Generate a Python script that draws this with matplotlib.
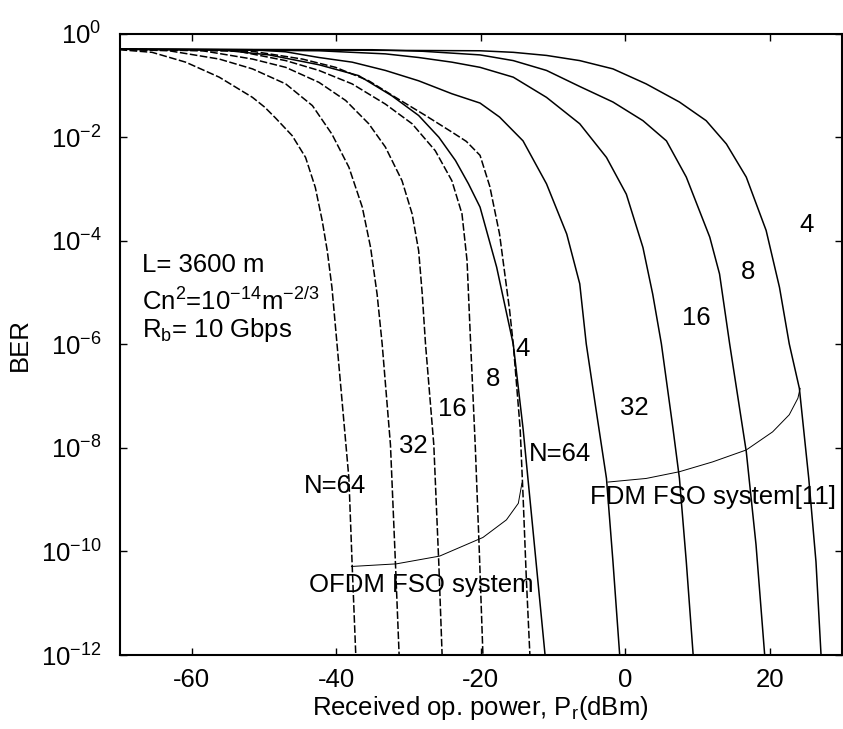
import matplotlib
matplotlib.use('Agg')
import matplotlib.pyplot as plt
import numpy as np

plt.rcParams['font.family'] = ['Liberation Sans', 'DejaVu Sans']
plt.rcParams['mathtext.fontset'] = 'custom'
plt.rcParams['mathtext.rm'] = 'Liberation Sans'
plt.rcParams['mathtext.it'] = 'Liberation Sans'
plt.rcParams['axes.unicode_minus'] = False

# received power (dBm) and log10(BER)
# OFDM FSO system, dashed
ofdm_n = ['N=64', '32', '16', '8', '4']
ofdm_pw = [
    [-70, -65.5, -60.85, -56.2, -51.6, -49.9, -48.4, -46.1, -44.25, -42.9, -41.95, -41.25, -40.6, -39.9, -38.25, -37.8, -37.3],
    [-70, -63.15, -56.2, -51.6, -47.0, -43.3, -40.6, -38.25, -36.4, -35.25, -34.35, -33.65, -32.5, -31.8, -31.3],
    [-70, -58.5, -51.6, -47.0, -42.4, -38.7, -35.5, -33.2, -30.9, -29.5, -28.6, -28.1, -27.65, -26.5, -25.8, -25.35],
    [-70, -53.9, -47.0, -42.4, -37.8, -33.2, -29.5, -26.3, -24.0, -22.6, -21.9, -21.4, -20.75, -20.2, -19.7],
    [-70, -51.6, -44.7, -40.1, -35.5, -31.8, -27.65, -24.0, -22.0, -20.1, -18.75, -17.4, -16.0, -15.5, -14.55, -14.15, -13.7, -13.2],
]
ofdm_ber = [
    [-0.31, -0.36, -0.55, -0.84, -1.23, -1.42, -1.63, -1.97, -2.39, -2.97, -3.61, -4.19, -4.90, -5.99, -8.59, -10.26, -12.0],
    [-0.30, -0.33, -0.49, -0.68, -0.97, -1.39, -1.94, -2.58, -3.35, -4.13, -5.03, -5.99, -7.94, -10.26, -12.0],
    [-0.30, -0.33, -0.49, -0.65, -0.94, -1.29, -1.74, -2.19, -2.84, -3.48, -4.19, -5.03, -5.99, -7.94, -10.26, -12.0],
    [-0.30, -0.33, -0.52, -0.71, -0.97, -1.36, -1.74, -2.26, -2.84, -3.48, -4.38, -5.99, -8.0, -10.0, -12.0],
    [-0.30, -0.34, -0.49, -0.65, -0.91, -1.23, -1.58, -1.90, -2.08, -2.35, -2.95, -3.87, -5.35, -6.0, -7.62, -8.91, -10.5, -12.0],
]

# FDM FSO system[11], solid
fdm_n = ['N=64', '32', '16', '8', '4']
fdm_pw = [
    [-70, -56.2, -49.3, -42.4, -36.9, -32.3, -28.6, -25.8, -23.5, -21.7, -20.1, -17.8, -15.5, -14.15, -12.8, -11.1],
    [-70, -51.6, -47.0, -42.4, -37.8, -33.2, -28.6, -24.0, -20.1, -17.4, -14.15, -10.9, -8.1, -6.3, -5.4, -4.0, -2.6, -1.7, -0.77],
    [-70, -42.4, -33.2, -28.6, -24.0, -20.1, -15.5, -10.9, -6.3, -2.6, 0.15, 2.45, 3.8, 5.0, 6.6, 7.5, 8.45, 9.4],
    [-70, -35.0, -28.0, -20.1, -15.5, -10.9, -6.3, -1.7, 2.45, 5.7, 8.45, 11.7, 13.05, 14.45, 16.75, 18.1, 19.3],
    [-70, -20.1, -15.5, -10.9, -6.3, -1.7, 2.9, 7.5, 11.2, 14.0, 16.75, 19.5, 21.35, 22.7, 24.1, 25.4, 26.4, 27.1],
]
fdm_ber = [
    [-0.30, -0.31, -0.41, -0.60, -0.81, -1.20, -1.58, -2.0, -2.45, -2.90, -3.35, -4.51, -6.0, -7.62, -9.55, -12.0],
    [-0.30, -0.31, -0.35, -0.46, -0.55, -0.71, -0.91, -1.16, -1.34, -1.61, -2.07, -2.90, -3.87, -4.83, -5.99, -7.30, -8.59, -10.2, -12.0],
    [-0.30, -0.33, -0.39, -0.46, -0.55, -0.65, -0.84, -1.23, -1.74, -2.39, -3.10, -4.13, -5.03, -5.99, -7.62, -8.59, -10.2, -12.0],
    [-0.30, -0.31, -0.34, -0.41, -0.52, -0.71, -1.02, -1.32, -1.68, -2.07, -2.77, -3.93, -4.64, -5.99, -8.07, -9.87, -12.0],
    [-0.30, -0.33, -0.36, -0.42, -0.52, -0.68, -0.97, -1.32, -1.68, -2.13, -2.77, -3.80, -4.90, -5.99, -6.85, -8.59, -10.2, -12.0],
]

# curve labels (position of text centre: dBm, log10 BER)
ofdm_lab_x = [-40.2, -29.3, -23.9, -18.3, -14.15]
ofdm_lab_y = [-8.74, -7.96, -7.24, -6.67, -6.09]
fdm_lab_x = [-9.1, 1.2, 9.8, 17.05, 25.05]
fdm_lab_y = [-8.12, -7.22, -5.49, -4.61, -3.70]

# bracket arcs that group the curves
ofdm_arc_x = [-37.9, -31.7, -25.7, -19.7, -16.45, -14.8, -14.3]
ofdm_arc_y = [-10.29, -10.24, -10.09, -9.73, -9.39, -9.07, -8.68]
fdm_arc_x = [-2.4, 2.9, 7.5, 12.1, 16.75, 20.4, 22.7, 23.9, 24.2]
fdm_arc_y = [-8.66, -8.59, -8.46, -8.27, -8.04, -7.69, -7.36, -7.04, -6.85]

FS = 18.5

fig = plt.figure(figsize=(8.43, 7.29), dpi=100)
ax = fig.add_axes([0.1418, 0.1015, 0.857, 0.8523])

for pw, ber in zip(ofdm_pw, ofdm_ber):
    ax.semilogy(pw, 10.0 ** np.array(ber), color='k', lw=1.1, linestyle=(0, (5, 1.6)))
for pw, ber in zip(fdm_pw, fdm_ber):
    ax.semilogy(pw, 10.0 ** np.array(ber), color='k', lw=1.1)

ax.plot(ofdm_arc_x, 10.0 ** np.array(ofdm_arc_y), color='k', lw=0.7)
ax.plot(fdm_arc_x, 10.0 ** np.array(fdm_arc_y), color='k', lw=0.7)

for lab, x, y in zip(ofdm_n, ofdm_lab_x, ofdm_lab_y):
    ax.text(x, 10.0 ** y, lab, fontsize=FS, ha='center', va='center')
for lab, x, y in zip(fdm_n, fdm_lab_x, fdm_lab_y):
    ax.text(x, 10.0 ** y, lab, fontsize=FS, ha='center', va='center')

ax.text(-28.2, 10.0 ** -10.65, 'OFDM FSO system', fontsize=FS, ha='center', va='center')
ax.text(12.1, 10.0 ** -8.94, 'FDM FSO system[11]', fontsize=FS, ha='center', va='center')

ax.text(-66.9, 10.0 ** -4.60, 'L= 3600 m', fontsize=FS, va='baseline')
ax.text(-66.9, 10.0 ** -5.34, r'Cn$^{2}$=10$^{-14}$m$^{-2/3}$', fontsize=FS, va='baseline')
ax.text(-66.9, 10.0 ** -5.86, r'R$_{b}$= 10 Gbps', fontsize=FS, va='baseline')

ax.set_xlim(-70, 30)
ax.set_ylim(1e-12, 1)
ax.set_xticks([-60, -40, -20, 0, 20])
ax.set_yticks([10.0 ** e for e in range(-12, 1, 2)])
ax.minorticks_off()
ax.tick_params(which='both', direction='in', top=True, right=True, length=5, width=1,
               labelsize=FS)
ax.tick_params(axis='x', pad=9)
ax.tick_params(axis='y', pad=13)
for sp in ax.spines.values():
    sp.set_linewidth(1.5)

ax.set_xlabel(r'Received op. power, P$_{r}$(dBm)', fontsize=FS, labelpad=2)
ax.set_ylabel('BER', fontsize=FS, labelpad=6)

plt.savefig('out.png', dpi=100)
plt.close()
print('>>> :out.png')
